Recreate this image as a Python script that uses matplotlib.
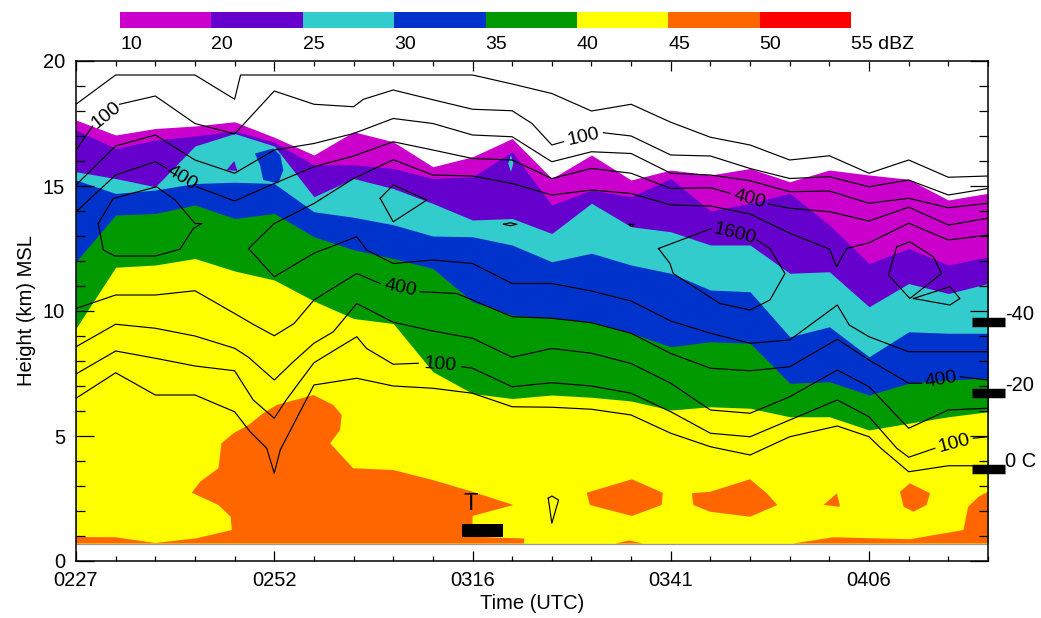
import numpy as np
import matplotlib
matplotlib.use("Agg")
import matplotlib.pyplot as plt

plt.rcParams['font.family'] = ['Liberation Sans', 'DejaVu Sans']

# ---------------------------------------------------------------------------
# Time axis: one radar volume scan per column (~5 min apart)
scan = np.arange(24)
time_ticks = [0, 5, 10, 15, 20]
time_labels = ['0227', '0252', '0316', '0341', '0406']

base_height = 0.7  # lowest analysed level (km MSL)

# Reflectivity classes and their colours
dbz_edges = [10, 20, 25, 30, 35, 40, 45, 50, 55]
dbz_colors = ['#CC00CC', '#6600CC', '#33CCCC', '#0033CC',
              '#009900', '#FFFF00', '#FF6600', '#FF0000']

# Echo-top heights (km MSL) of each reflectivity threshold, per scan
top_10dbz = [17.64, 17.04, 17.30, 17.40, 17.57, 16.95, 16.24, 17.17, 16.77, 15.77,
             16.17, 16.90, 15.30, 16.24, 15.24, 15.64, 15.44, 15.70, 15.17, 15.64,
             15.44, 15.27, 14.44, 14.71]
top_20dbz = [17.24, 16.50, 16.84, 17.00, 17.20, 16.75, 15.84, 15.85, 15.70, 15.30,
             15.37, 16.37, 14.24, 14.84, 14.57, 15.30, 14.00, 14.31, 14.71, 13.44,
             11.90, 12.50, 11.84, 12.17]
top_25dbz = [15.57, 15.30, 14.97, 16.60, 17.10, 16.60, 14.57, 15.30, 14.90, 14.30,
             13.64, 13.70, 13.10, 14.31, 13.37, 13.17, 12.64, 12.64, 11.51, 11.57,
             10.17, 11.10, 10.70, 11.10]
top_30dbz = [15.24, 14.70, 14.84, 15.10, 15.15, 15.10, 13.97, 13.75, 13.45, 13.00,
             12.97, 12.64, 11.97, 12.31, 11.84, 11.51, 10.84, 10.77, 8.97, 9.37,
             8.17, 9.17, 9.11, 9.11]
top_35dbz = [11.97, 13.84, 13.90, 14.24, 13.70, 13.90, 12.97, 12.45, 12.10, 11.70,
             10.37, 9.84, 9.71, 9.57, 9.11, 8.57, 8.77, 8.71, 7.11, 7.17,
             6.64, 7.11, 7.24, 7.31]
top_40dbz = [9.31, 11.75, 11.84, 12.10, 11.60, 11.24, 10.40, 9.70, 9.50, 7.57,
             6.70, 6.50, 6.64, 6.55, 6.40, 6.04, 6.17, 6.11, 5.77, 5.77,
             5.24, 5.51, 5.77, 5.97]
echo_tops = [top_10dbz, top_20dbz, top_25dbz, top_30dbz, top_35dbz, top_40dbz]

# Isolated reflectivity cells (scan, height) outlines
cell30_t = [4.51, 4.97, 5.15, 5.23, 5.10, 4.72, 4.64]
cell30_h = [16.30, 16.50, 16.24, 15.64, 15.10, 15.24, 15.84]
cell20_t = [3.80, 3.99, 4.07]
cell20_h = [15.64, 16.00, 15.60]
cell25_t = [10.90, 10.97, 11.03, 10.97]
cell25_h = [15.90, 16.24, 15.90, 15.57]

# 45 dBZ regions
core45_t = [0, 11.3, 11.3, 10.0, 10.0, 11.03, 10.0, 9.0, 8.0, 6.99, 6.41, 6.66, 6.70,
            6.49, 5.99, 5.06, 4.72, 4.35, 3.97, 3.67, 3.59, 3.13, 2.92, 3.59, 3.90,
            3.93, 3.04, 2.0, 1.0, 0]
core45_h = [0.7, 0.7, 0.9, 0.97, 1.8, 2.24, 2.77, 3.24, 3.64, 3.71, 4.71, 5.24, 5.84,
            6.24, 6.64, 6.24, 5.91, 5.44, 5.11, 4.71, 3.71, 3.17, 2.73, 2.24, 1.77,
            1.24, 0.91, 0.72, 0.95, 0.96]
cellA45_t = [12.88, 14.02, 14.80, 14.77, 14.02, 12.96]
cellA45_h = [2.73, 3.27, 2.73, 2.24, 1.80, 2.24]
cellB45_t = [15.53, 15.99, 17.00, 17.42, 17.69, 17.00, 15.99, 15.57]
cellB45_h = [2.71, 2.77, 3.27, 2.71, 2.24, 1.77, 1.97, 2.24]
cellC45_t = [18.85, 19.19, 19.27]
cellC45_h = [2.24, 2.71, 2.17]
cellD45_t = [20.78, 21.03, 21.54, 21.45, 21.12, 20.87]
cellD45_h = [2.77, 3.11, 2.71, 2.24, 1.97, 2.17]
cellE45_t = [18.09, 19.1, 21.03, 22.38, 22.5, 22.76, 23.0, 23.0]
cellE45_h = [0.7, 0.95, 0.87, 1.24, 2.17, 2.57, 2.77, 0.7]
cellF45_t = [13.6, 13.95, 14.3]
cellF45_h = [0.7, 0.82, 0.7]
cells45 = [(core45_t, core45_h), (cellA45_t, cellA45_h), (cellB45_t, cellB45_h),
           (cellC45_t, cellC45_h), (cellD45_t, cellD45_h), (cellE45_t, cellE45_h),
           (cellF45_t, cellF45_h)]

nan = np.nan
# Source-density isolines (gaps hold the contour labels)
iso_a_t = [0, 1, 2, 3, 4, 4.15, 5, 6, 7, 8, 9, 10, 11, 12, 13, 14, 15, 16, 17, 18, 19, 20, 21, 22, 23]
iso_a_h = [18.27, 19.44, 19.44, 19.44, 18.47, 19.44, 19.44, 19.44, 19.44, 19.44, 19.44, 19.44,
           19.08, 18.7, 18.0, 18.27, 17.55, 16.95, 16.64, 16.04, 16.21, 15.51, 16.04, 15.35, 15.4]
iso_b_t = [0, 0.42, nan, 1.1, 2, 3, 4, 5, 6, 7, 7.25, 8, 9, 10, 11, 11.5, 12, 12.29, nan,
           13.3, 14, 15, 16, 17, 18, 19, 20, 21, 22, 23]
iso_b_h = [16.44, 17.4, nan, 18.27, 18.6, 17.5, 17.08, 18.8, 18.27, 18.17, 18.47, 18.84, 18.45,
           18.07, 18.01, 17.5, 16.64, 16.77, nan, 17.13, 17.0, 16.24, 16.2, 15.7, 15.3, 15.37,
           14.97, 15.24, 14.64, 14.9]
iso_c_t = list(range(24))
iso_c_h = [15.04, 16.6, 17.04, 16.04, 15.51, 16.44, 16.7, 17.1, 17.7, 17.5, 17.04, 16.97,
           15.97, 16.37, 16.3, 15.51, 15.44, 15.21, 14.77, 14.8, 14.31, 14.51, 14.13, 14.31]
iso_d_t = [0, 1, 2, 2.29, nan, 3.04, 4, 5, 6, 7, 8, 9, 10, 11, 12, 13, 14, 15, 16, 16.49, nan,
           17.46, 18, 19, 20, 21, 22, 23]
iso_d_h = [13.97, 15.44, 15.97, 15.71, nan, 14.97, 14.4, 15.1, 15.77, 16.2, 16.77, 16.44, 16.1,
           16.04, 15.3, 15.7, 15.51, 14.9, 14.93, 14.71, nan, 14.28, 14.11, 13.97, 13.6, 14.15,
           13.44, 13.71]
iso_e_t = [23, 22, 21, 20, 19.44, 19.18, 19, 18, 17, 16, 15, 14, 13, 12, 11, 10, 9, 8, 7, 6, 5,
           4.35, 5, 6, 7.08, 7.33, 8, 9, 10, 11, 12, 13, 14, 15, 16, 17, 18, 19.2, 19.5, 20,
           21, 22, 23]
iso_e_h = [13.04, 12.84, 13.51, 12.73, 12.5, 11.77, 12.48, 13.11, 13.88, 14.2, 14.24, 14.7,
           14.84, 14.64, 15.1, 15.4, 15.44, 16.05, 15.3, 14.3, 13.5, 12.5, 11.37, 12.31, 12.97,
           12.44, 11.9, 12.04, 11.9, 11.1, 11.1, 10.8, 10.4, 9.6, 9.11, 8.71, 8.84, 10.24, 9.44,
           8.97, 8.37, 8.37, 8.37]
iso_f_t = [0, 1, 2, 3, 4, 4.5, 5, 5.5, 6, 7.08, 7.67, nan, 8.68, 9.6, 10, 11, 12, 13, 14, 15,
           16, 17, 18, 19.2, 20, 21, 21.33, nan, 22.3, 23]
iso_f_h = [10.1, 10.64, 10.64, 10.81, 9.9, 9.44, 9.01, 9.5, 10.44, 11.5, 11.1, nan, 10.77, 10.7,
           10.44, 9.77, 9.71, 9.53, 9.11, 8.3, 7.71, 7.61, 7.77, 8.87, 8.04, 7.11, 7.11, nan,
           7.37, 7.24]
iso_g_t = [0, 1, 2, 3, 4, 4.35, 5, 5.48, 6, 6.49, 7.08, 8, 9, 10, 11, 12, 13, 14, 15, 16, 17,
           18, 19.2, 20, 21, 22, 23]
iso_g_h = [8.57, 9.47, 9.31, 9.0, 8.51, 8.15, 7.24, 7.97, 8.71, 9.17, 10.3, 9.55, 9.2, 8.91,
           8.15, 8.5, 8.31, 7.9, 7.11, 6.04, 5.91, 6.57, 7.64, 6.97, 5.31, 6.04, 6.11]
iso_h_t = [0, 1, 2, 3, 4, 4.47, 5, 5.3, 6, 6.66, 7.08, 7.33, 8, 8.63, nan, 9.73, 10, 11, 12,
           13, 14, 15, 16, 17, 18, 19.2, 20, 20.7, 21, 21.66, nan, 22.63, 23]
iso_h_h = [7.48, 8.4, 8.11, 7.8, 7.61, 6.44, 5.71, 6.44, 7.93, 8.57, 8.97, 8.5, 7.87, 7.91, nan,
           7.77, 7.71, 6.97, 7.13, 7.0, 6.71, 5.97, 5.11, 4.97, 5.64, 6.44, 5.77, 4.51, 4.15,
           4.51, nan, 4.91, 4.97]
iso_i_t = [0, 1, 2, 3, 4, 4.39, 4.81, 5, 5.15, 6, 7.08, 8, 9, 10, 11, 12, 13, 14, 15, 16, 17,
           18, 19.2, 20, 20.3, 21, 22, 23]
iso_i_h = [6.51, 7.53, 6.64, 6.64, 5.97, 5.17, 4.51, 3.51, 4.44, 7.04, 7.31, 7.0, 6.91, 6.71,
           6.17, 6.15, 6.07, 5.84, 5.11, 4.57, 4.24, 4.97, 5.4, 4.97, 4.51, 3.57, 3.81, 3.81]
loop1_t = [0.56, 0.94, 2.03, 2.5, 3.0, 3.17, 2.96, 2.62, 2.0, 0.98, 0.69, 0.56]
loop1_h = [13.5, 14.5, 14.97, 14.44, 13.5, 13.5, 13.3, 12.47, 12.2, 12.2, 12.44, 13.5]
loop2_t = [7.67, 8.0, 8.85, 8.0, 7.67]
loop2_h = [14.51, 15.04, 14.44, 13.57, 14.51]
loop3_t = [14.69, 16.03, nan, 17.17, 17.5, 17.88, 17.5, 17.0, 16.24, 15.06, 14.98, 14.69]
loop3_h = [12.5, 13.3, nan, 12.84, 12.5, 11.5, 10.44, 10.04, 10.3, 11.5, 11.9, 12.5]
loop4_t = [20.7, 21.03, 21.62, 21.83, 21.03, 20.49, 20.7]
loop4_h = [12.57, 12.77, 12.17, 11.5, 10.5, 11.44, 12.57]
loop5_t = [21.12, 22.04, 22.29, 22.04, 21.12]
loop5_h = [10.5, 10.97, 10.5, 10.24, 10.5]
loop6_t = [10.78, 10.95, 11.12, 10.95, 10.78]
loop6_h = [13.47, 13.53, 13.47, 13.41, 13.47]
loop7_t = [11.91, 12.0, 12.17, 12.0, 11.91]
loop7_h = [2.51, 2.6, 2.44, 1.51, 2.51]
loop8_t = [13.95, 14.08, 14.0, 13.95]
loop8_h = [13.47, 13.47, 13.38, 13.47]

isolines = [(iso_a_t, iso_a_h), (iso_b_t, iso_b_h), (iso_c_t, iso_c_h), (iso_d_t, iso_d_h),
            (iso_e_t, iso_e_h), (iso_f_t, iso_f_h), (iso_g_t, iso_g_h), (iso_h_t, iso_h_h),
            (iso_i_t, iso_i_h), (loop1_t, loop1_h), (loop2_t, loop2_h), (loop3_t, loop3_h),
            (loop4_t, loop4_h), (loop5_t, loop5_h), (loop6_t, loop6_h), (loop7_t, loop7_h),
            (loop8_t, loop8_h)]
# (text, isoline, which gap)
iso_labels = [('100', (iso_b_t, iso_b_h), 0), ('100', (iso_b_t, iso_b_h), 1),
              ('400', (iso_d_t, iso_d_h), 0), ('400', (iso_d_t, iso_d_h), 1),
              ('1600', (loop3_t, loop3_h), 0),
              ('400', (iso_f_t, iso_f_h), 0), ('400', (iso_f_t, iso_f_h), 1),
              ('100', (iso_h_t, iso_h_h), 0), ('100', (iso_h_t, iso_h_h), 1)]

# Environmental temperature levels
temp_labels = ['-40', '-20', '0 C']
temp_heights = [9.56, 6.73, 3.70]

# Surface-observation marker
marker_t = (9.74, 10.77)
marker_h = (0.97, 1.48)

# ---------------------------------------------------------------------------
fig = plt.figure(figsize=(10.41, 6.18), dpi=100)
ax = fig.add_axes([76 / 1041, 57 / 618, 912 / 1041, 500 / 618])
ax.set_xlim(0, 23)
ax.set_ylim(0, 20)

for tops, col in zip(echo_tops, dbz_colors[:6]):
    ax.fill_between(scan, base_height, tops, color=col, lw=0)
    if col == dbz_colors[2]:
        ax.fill(cell20_t, cell20_h, color=dbz_colors[1], lw=0)
    if col == dbz_colors[3]:
        ax.fill(cell30_t, cell30_h, color=dbz_colors[3], lw=0)
ax.fill(cell25_t, cell25_h, color=dbz_colors[2], lw=0)
for t, h in cells45:
    ax.fill(t, h, color=dbz_colors[6], lw=0)
ax.axhline(base_height, color='#999999', lw=0.9)

for t, h in isolines:
    ax.plot(t, h, color='black', lw=0.85)


def label_gap(text, line, k):
    t = np.asarray(line[0], float)
    h = np.asarray(line[1], float)
    i = np.where(np.isnan(t))[0][k]
    p0 = ax.transData.transform((t[i - 1], h[i - 1]))
    p1 = ax.transData.transform((t[i + 1], h[i + 1]))
    ang = np.degrees(np.arctan2(p1[1] - p0[1], p1[0] - p0[0]))
    ax.text((t[i - 1] + t[i + 1]) / 2, (h[i - 1] + h[i + 1]) / 2, text,
            rotation=ang, rotation_mode='anchor', ha='center', va='center',
            fontsize=14)


for text, line, k in iso_labels:
    label_gap(text, line, k)

# surface marker
ax.fill([marker_t[0], marker_t[1], marker_t[1], marker_t[0]],
        [marker_h[0], marker_h[0], marker_h[1], marker_h[1]], color='black', lw=0)
ax.text(sum(marker_t) / 2 - 0.3, 2.3, 'T', ha='center', va='center', fontsize=17)

# temperature levels on the right edge
for lab, z in zip(temp_labels, temp_heights):
    ax.plot([22.6, 23.43], [z, z], color='black', lw=6.8, solid_capstyle='butt',
            clip_on=False, zorder=5)
    ax.text(23.42, z + 0.28, lab, ha='left', va='center', fontsize=14.5, clip_on=False)

ax.set_xticks(time_ticks)
ax.set_xticklabels(time_labels)
ax.set_xticks(scan, minor=True)
ax.set_yticks([0, 5, 10, 15, 20])
ax.set_yticks(np.arange(0, 21, 1), minor=True)
ax.tick_params(axis='both', which='both', direction='in', top=True, right=True,
               labelsize=14.5, width=0.9)
ax.tick_params(axis='x', which='major', length=7.2, pad=7)
ax.tick_params(axis='x', which='minor', length=3.3)
ax.tick_params(axis='y', which='major', length=13, pad=8)
ax.tick_params(axis='y', which='minor', length=6.5)
for s in ax.spines.values():
    s.set_linewidth(1.1)
ax.set_xlabel('Time (UTC)', fontsize=14.5, labelpad=3)
ax.set_ylabel('Height (km) MSL', fontsize=14.5, labelpad=5)

# reflectivity colour key
cax = fig.add_axes([120 / 1041, (618 - 28) / 618, 731 / 1041, 16 / 618])
cax.bar(np.arange(8), 1, width=1, align='edge', color=dbz_colors, lw=0)
cax.set_xlim(0, 8)
cax.set_ylim(0, 1)
cax.axis('off')
for i, v in enumerate(dbz_edges):
    lab = f'{v} dBZ' if i == len(dbz_edges) - 1 else str(v)
    cax.text(i, -0.5, lab, ha='left', va='top', fontsize=14, transform=cax.transData)

fig.savefig('out.png', dpi=100)
